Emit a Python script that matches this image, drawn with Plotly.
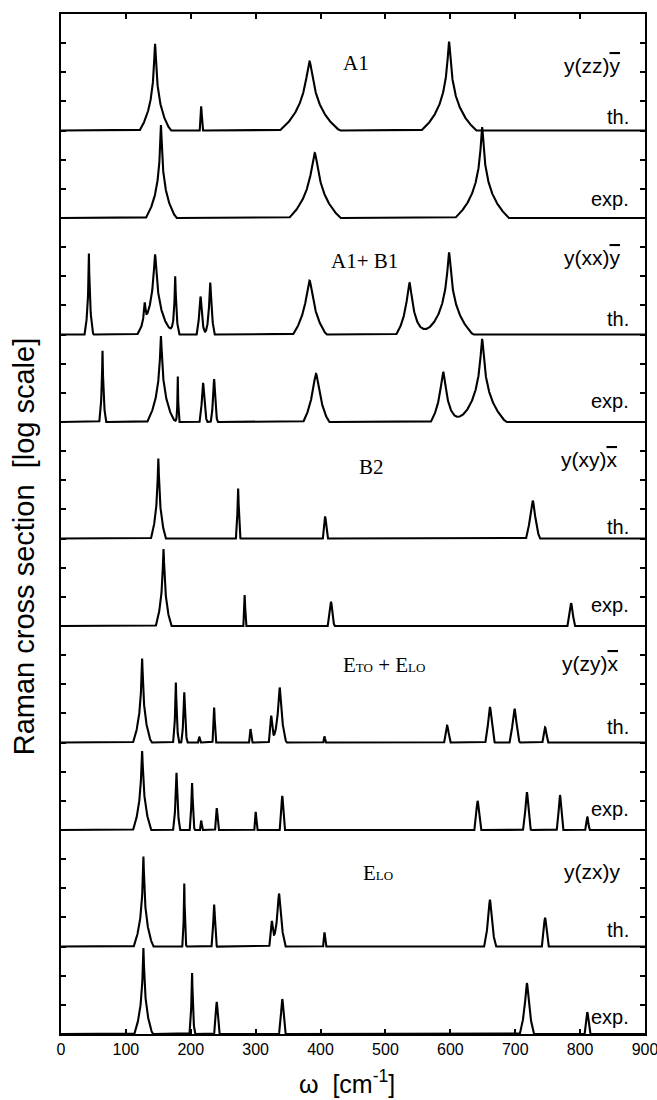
import numpy as np
import plotly.graph_objects as go

# ---------------- data ----------------
x_tick_vals = [0, 100, 200, 300, 400, 500, 600, 700, 800, 900]

# Each spectrum: peak positions (cm^-1), peak heights (decades above the floor),
# foot half-widths (cm^-1, where the peak meets the floor)
a1_th_pos = [145, 216, 383, 598]
a1_th_h = [2.98, 0.82, 2.37, 3.05]
a1_th_w = [23.5, 2.0, 45, 41.5]

a1_exp_pos = [154, 391, 649]
a1_exp_h = [3.19, 2.23, 3.12]
a1_exp_w = [23, 39, 41]

a1b1_th_pos = [43, 129, 145, 176, 215, 230, 383, 537, 598]
a1b1_th_h = [2.78, 1.0, 2.75, 2.0, 1.3, 1.78, 1.85, 1.78, 2.82]
a1b1_th_w = [6.5, 3, 26, 4.5, 5, 6, 25, 18, 36]

a1b1_exp_pos = [64, 154, 180, 219, 236, 393, 589, 649]
a1b1_exp_h = [2.44, 2.95, 1.55, 1.34, 1.47, 1.65, 1.71, 2.85]
a1b1_exp_w = [5, 21, 1.5, 5, 4.5, 19.5, 17, 36]

b2_th_pos = [150, 273, 407, 727]
b2_th_h = [2.75, 1.72, 0.76, 1.3]
b2_th_w = [11.5, 3.5, 3.5, 10.5]

b2_exp_pos = [158, 283, 416, 786]
b2_exp_h = [2.64, 1.06, 0.83, 0.78]
b2_exp_w = [12, 2, 5, 5.5]

e_th_pos = [125, 177, 190, 213, 236, 292, 324, 337, 406, 595, 661, 699, 746]
e_th_h = [2.88, 2.06, 1.72, 0.17, 1.2, 0.45, 0.89, 1.89, 0.2, 0.58, 1.22, 1.15, 0.52]
e_th_w = [14, 4, 4, 1.5, 2.5, 2, 3, 10, 1.5, 4.5, 7, 7.5, 4]

e_exp_pos = [125, 178, 202, 216, 240, 300, 341, 642, 718, 769, 811]
e_exp_h = [2.71, 1.96, 1.61, 0.3, 0.75, 0.62, 1.17, 1.0, 1.3, 1.2, 0.45]
e_exp_w = [14, 5, 3.5, 1.5, 2.5, 2, 4, 5, 6, 5, 3]

elo_th_pos = [127, 190, 236, 325, 336, 406, 661, 746]
elo_th_h = [3.09, 2.16, 1.44, 0.83, 1.82, 0.48, 1.61, 0.99]
elo_th_w = [15, 3, 4, 3, 10, 2, 9, 5]

elo_exp_pos = [127, 202, 240, 341, 718, 811]
elo_exp_h = [2.95, 2.09, 1.1, 1.2, 1.75, 0.75]
elo_exp_w = [14, 4, 4, 5, 11, 4]

# ---------------- figure ----------------
spectra = [
    (a1_th_pos, a1_th_h, a1_th_w),
    (a1_exp_pos, a1_exp_h, a1_exp_w),
    (a1b1_th_pos, a1b1_th_h, a1b1_th_w),
    (a1b1_exp_pos, a1b1_exp_h, a1b1_exp_w),
    (b2_th_pos, b2_th_h, b2_th_w),
    (b2_exp_pos, b2_exp_h, b2_exp_w),
    (e_th_pos, e_th_h, e_th_w),
    (e_exp_pos, e_exp_h, e_exp_w),
    (elo_th_pos, elo_th_h, elo_th_w),
    (elo_exp_pos, elo_exp_h, elo_exp_w),
]
panel_heights = [4, 3, 4, 3, 4, 3, 4, 3, 4, 3]  # decades per panel, top to bottom
total = sum(panel_heights)
floors = []
acc = total
for ph in panel_heights:
    acc -= ph
    floors.append(acc)


def log_spectrum(pos, h, w):
    x = np.unique(np.concatenate([np.arange(0, 900.0001, 0.25), np.array(pos, float)]))
    inten = np.zeros_like(x)
    for p, hh, ww in zip(pos, h, w):
        amp = 10 ** hh
        gam = ww / np.sqrt(amp - 1)
        inten += amp / (1 + ((x - p) / gam) ** 2)
    y = np.clip(np.log10(np.maximum(inten, 1e-12)), 0, None)
    return x, y


fig = go.Figure()
for (pos, h, w), fl in zip(spectra, floors):
    x, y = log_spectrum(pos, h, w)
    fig.add_trace(go.Scatter(x=np.round(x, 3), y=np.round(y + fl, 4), mode="lines",
                             line=dict(color="black", width=2.1),
                             hoverinfo="skip", showlegend=False))

sans = "Liberation Sans, Arial, Helvetica, sans-serif"
serif = "Liberation Serif, Times New Roman, serif"
OL = '<span style="text-decoration:overline">{}</span>'

labels = [
    # text, x, y, xanchor, font family, size
    ("A1", 455, 33.32, "center", serif, 21),
    ("y(zz)" + OL.format("y"), 866, 33.25, "right", sans, 21),
    ("th.", 879, 31.47, "right", sans, 20),
    ("exp.", 879, 28.65, "right", sans, 20),
    ("A1+ B1", 467, 26.53, "center", serif, 21),
    ("y(xx)" + OL.format("y"), 866, 26.66, "right", sans, 21),
    ("th.", 879, 24.54, "right", sans, 20),
    ("exp.", 879, 21.72, "right", sans, 20),
    ("B2", 478, 19.46, "center", serif, 21),
    ("y(xy)" + OL.format("x"), 861, 19.73, "right", sans, 21),
    ("th.", 879, 17.4, "right", sans, 20),
    ("exp.", 879, 14.72, "right", sans, 20),
    ('E<span style="font-size:13px">TO</span> + E<span style="font-size:13px">LO</span>',
     497, 12.66, "center", serif, 21),
    ("y(zy)" + OL.format("x"), 863, 12.7, "right", sans, 21),
    ("th.", 879, 10.54, "right", sans, 20),
    ("exp.", 879, 7.72, "right", sans, 20),
    ('E<span style="font-size:13px">LO</span>', 489, 5.52, "center", serif, 21),
    ("y(zx)y", 864, 5.59, "right", sans, 21),
    ("th.", 879, 3.57, "right", sans, 20),
    ("exp.", 879, 0.58, "right", sans, 20),
]
for t, x, y, xa, fam, sz in labels:
    fig.add_annotation(text=t, x=x, y=y, xref="x", yref="y", xanchor=xa, yanchor="middle",
                       showarrow=False, font=dict(family=fam, size=sz, color="black"))

# axis titles
fig.add_annotation(text="ω  [cm<sup>-1</sup>]", x=0.49, y=-0.047, xref="paper", yref="paper",
                   xanchor="center", yanchor="middle", showarrow=False,
                   font=dict(family=sans, size=25, color="black"))
fig.add_annotation(text="Raman cross section  [log scale]", x=-0.062, y=0.478,
                   xref="paper", yref="paper", xanchor="center", yanchor="middle",
                   textangle=-90, showarrow=False,
                   font=dict(family=sans, size=29, color="black"))

fig.update_layout(
    width=657, height=1100,
    margin=dict(l=61, r=12, t=14, b=66, autoexpand=False),
    paper_bgcolor="white", plot_bgcolor="white",
    xaxis=dict(range=[0, 900], tickvals=x_tick_vals, ticks="inside", ticklen=5,
               tickwidth=1.5, tickcolor="black", showline=True, linecolor="black",
               linewidth=1.8, mirror="ticks", showgrid=False, zeroline=False,
               ticklabeloverflow="allow", automargin=False,
               tickfont=dict(family=sans, size=16, color="black")),
    yaxis=dict(range=[0, total], tickvals=list(range(0, total + 1)), ticks="inside",
               ticklen=5, tickwidth=1.5, tickcolor="black", showline=True,
               linecolor="black", linewidth=1.8, mirror="ticks", showgrid=False,
               zeroline=False, showticklabels=False, automargin=False),
)

fig.write_html("out.html")
